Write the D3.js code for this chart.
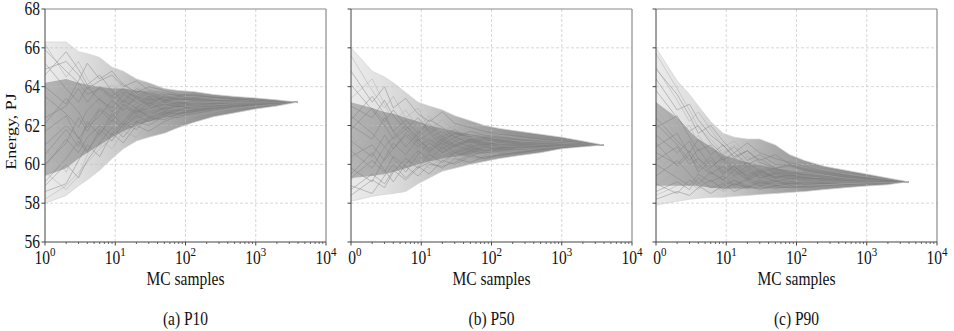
<!DOCTYPE html>
<html>
<head>
<meta charset="utf-8">
<script src="https://cdn.jsdelivr.net/npm/d3@7"></script>
<style>
  body { margin: 0; background: #fff; }
  svg { display: block; }
  text { font-family: "Liberation Serif", "Times New Roman", "DejaVu Serif", serif; fill: #111; }
</style>
</head>
<body>
<svg id="chart" width="954" height="331"></svg>
<script>
// Monte Carlo sample counts at which each running estimate is recorded
const samples = [1, 2, 3, 4, 6, 9, 13, 20, 30, 50, 80, 130, 250, 500, 1000, 2000, 3900];

const yTicks = [56, 58, 60, 62, 64, 66, 68];
const xTicks = [1, 10, 100, 1000, 10000];
const captions = ["(a) P10", "(b) P50", "(c) P90"];

// P10 estimate: full spread (min/max) and central spread of all runs
const p10OuterLo = [58.0, 58.4, 58.9, 59.2, 59.7, 60.3, 60.8, 61.2, 61.4, 61.6, 61.9, 62.15, 62.45, 62.65, 62.85, 63.0, 63.2];
const p10OuterHi = [66.3, 66.3, 65.8, 65.7, 65.5, 65.0, 64.8, 64.4, 64.2, 63.9, 63.8, 63.75, 63.6, 63.5, 63.42, 63.32, 63.2];
const p10InnerLo = [59.4, 59.8, 60.3, 60.6, 61.0, 61.4, 61.7, 62.0, 62.2, 62.4, 62.55, 62.7, 62.85, 62.95, 63.02, 63.1, 63.2];
const p10InnerHi = [64.2, 64.4, 64.2, 64.1, 64.0, 63.9, 63.9, 63.8, 63.75, 63.65, 63.6, 63.55, 63.48, 63.42, 63.36, 63.28, 63.2];
const p10Runs = [
  [58.2, 58.9, 59.6, 60.1, 60.8, 61.3, 61.9, 62.3, 62.5, 62.8, 62.9, 63.0, 63.1, 63.1, 63.15, 63.18, 63.2],
  [65.9, 64.8, 64.2, 63.6, 63.9, 63.4, 63.7, 63.5, 63.3, 63.4, 63.3, 63.35, 63.3, 63.25, 63.22, 63.21, 63.2],
  [60.5, 61.8, 60.9, 62.2, 61.5, 62.6, 62.0, 62.8, 62.5, 62.9, 63.0, 62.9, 63.1, 63.2, 63.18, 63.2, 63.2],
  [62.8, 61.4, 62.5, 63.6, 62.9, 63.8, 64.2, 63.6, 63.9, 63.5, 63.6, 63.4, 63.35, 63.3, 63.28, 63.22, 63.2],
  [59.1, 60.3, 61.2, 60.6, 61.8, 61.2, 62.1, 61.8, 62.4, 62.3, 62.6, 62.7, 62.9, 63.0, 63.1, 63.15, 63.2],
  [64.6, 65.8, 64.9, 64.1, 64.6, 63.8, 63.2, 63.9, 63.6, 63.3, 63.5, 63.4, 63.3, 63.28, 63.25, 63.22, 63.2],
  [61.2, 60.4, 61.8, 62.6, 62.1, 62.9, 62.4, 63.1, 62.8, 63.0, 62.9, 63.1, 63.05, 63.15, 63.2, 63.2, 63.2],
  [63.5, 62.6, 61.9, 62.8, 63.4, 62.7, 63.3, 62.9, 63.4, 63.2, 63.1, 63.3, 63.2, 63.25, 63.22, 63.2, 63.2],
  [58.6, 59.0, 60.2, 61.0, 60.4, 61.6, 61.1, 62.0, 61.7, 62.2, 62.5, 62.6, 62.8, 62.95, 63.05, 63.13, 63.2],
  [66.2, 64.5, 65.3, 64.4, 63.6, 64.1, 63.5, 64.0, 63.7, 63.6, 63.45, 63.5, 63.4, 63.32, 63.27, 63.23, 63.2],
  [60.0, 61.1, 62.4, 61.7, 62.8, 62.2, 63.0, 62.6, 63.2, 62.8, 63.0, 62.85, 63.0, 63.1, 63.15, 63.18, 63.2],
  [62.1, 63.4, 62.7, 61.9, 62.5, 63.3, 62.8, 63.5, 63.0, 63.3, 63.2, 63.0, 63.15, 63.2, 63.2, 63.2, 63.2],
  [59.6, 58.7, 59.4, 60.5, 61.3, 60.8, 61.7, 61.4, 62.1, 61.9, 62.3, 62.5, 62.7, 62.9, 63.0, 63.12, 63.2],
  [64.0, 63.1, 64.3, 65.2, 64.4, 64.8, 64.1, 63.7, 64.0, 63.8, 63.6, 63.55, 63.45, 63.35, 63.3, 63.24, 63.2],
  [61.7, 62.5, 61.3, 62.0, 62.9, 62.4, 63.1, 62.7, 62.9, 63.1, 62.95, 63.1, 63.1, 63.15, 63.18, 63.2, 63.2],
  [63.0, 64.2, 63.5, 62.8, 63.7, 63.1, 62.6, 63.3, 62.9, 63.4, 63.25, 63.3, 63.25, 63.2, 63.22, 63.21, 63.2],
  [58.9, 60.0, 59.3, 60.2, 61.1, 61.9, 61.4, 62.2, 62.0, 62.5, 62.4, 62.7, 62.85, 63.0, 63.08, 63.15, 63.2],
  [65.2, 63.9, 63.2, 64.0, 63.3, 62.9, 63.6, 63.2, 63.5, 63.3, 63.4, 63.3, 63.28, 63.25, 63.22, 63.2, 63.2],
  [60.8, 59.6, 60.9, 61.5, 60.9, 61.8, 62.4, 62.0, 62.6, 62.4, 62.7, 62.9, 62.95, 63.05, 63.12, 63.17, 63.2],
  [62.4, 63.0, 63.9, 63.2, 64.0, 63.5, 63.9, 63.4, 63.1, 63.5, 63.3, 63.4, 63.3, 63.25, 63.22, 63.2, 63.2],
  [59.9, 61.3, 60.6, 61.4, 62.0, 61.5, 62.2, 62.9, 62.4, 62.7, 62.6, 62.8, 63.0, 63.05, 63.1, 63.16, 63.2],
  [63.9, 62.2, 62.9, 63.5, 62.8, 63.4, 62.9, 63.2, 63.6, 63.1, 63.3, 63.2, 63.2, 63.22, 63.2, 63.2, 63.2],
  [61.0, 62.0, 61.4, 60.7, 61.6, 62.3, 61.9, 62.5, 62.2, 62.6, 62.8, 62.75, 62.95, 63.05, 63.12, 63.17, 63.2],
  [64.9, 65.3, 64.6, 63.9, 64.3, 64.6, 64.0, 64.3, 63.8, 63.7, 63.55, 63.6, 63.45, 63.35, 63.28, 63.23, 63.2]
];

// P50 estimate
const p50OuterLo = [58.1, 58.35, 58.45, 58.5, 58.6, 59.0, 59.3, 59.65, 59.8, 60.0, 60.15, 60.3, 60.45, 60.6, 60.8, 60.9, 61.0];
const p50OuterHi = [66.0, 64.8, 64.5, 64.2, 63.7, 63.2, 63.0, 62.8, 62.5, 62.25, 62.0, 61.85, 61.7, 61.55, 61.4, 61.2, 61.0];
const p50InnerLo = [59.3, 59.4, 59.5, 59.6, 59.8, 60.0, 60.15, 60.3, 60.4, 60.5, 60.58, 60.65, 60.74, 60.8, 60.87, 60.93, 61.0];
const p50InnerHi = [63.2, 62.9, 62.7, 62.6, 62.4, 62.2, 62.0, 61.85, 61.7, 61.55, 61.45, 61.38, 61.28, 61.2, 61.14, 61.07, 61.0];
const p50Runs = [
  [65.6, 63.8, 62.9, 63.5, 62.4, 62.9, 61.8, 62.3, 61.7, 61.9, 61.5, 61.6, 61.3, 61.2, 61.15, 61.08, 61.0],
  [58.4, 59.2, 58.8, 59.6, 60.3, 59.8, 60.5, 60.1, 60.6, 60.4, 60.7, 60.6, 60.8, 60.85, 60.92, 60.96, 61.0],
  [61.2, 60.4, 61.5, 60.8, 61.6, 61.1, 60.6, 61.2, 60.9, 61.3, 61.1, 61.0, 61.1, 61.05, 61.0, 61.0, 61.0],
  [63.4, 64.4, 63.1, 62.2, 62.8, 61.9, 62.5, 61.7, 62.0, 61.6, 61.8, 61.5, 61.35, 61.25, 61.15, 61.08, 61.0],
  [59.5, 60.6, 59.7, 59.1, 60.0, 60.7, 60.2, 60.9, 60.4, 60.7, 60.55, 60.8, 60.75, 60.9, 60.95, 60.98, 61.0],
  [62.0, 61.3, 62.4, 61.7, 60.9, 61.6, 62.1, 61.4, 61.8, 61.2, 61.4, 61.25, 61.2, 61.1, 61.05, 61.03, 61.0],
  [60.1, 61.4, 60.7, 61.9, 61.2, 60.4, 61.0, 60.5, 60.8, 61.1, 60.8, 60.95, 60.9, 61.0, 60.98, 61.0, 61.0],
  [64.8, 63.2, 64.0, 62.9, 63.4, 62.6, 62.2, 62.7, 62.1, 61.9, 61.7, 61.55, 61.45, 61.3, 61.2, 61.1, 61.0],
  [58.9, 58.5, 59.4, 60.0, 59.3, 59.9, 59.5, 60.2, 60.0, 60.4, 60.3, 60.5, 60.6, 60.75, 60.85, 60.93, 61.0],
  [62.7, 61.8, 61.1, 61.9, 61.4, 62.1, 61.5, 61.8, 61.3, 61.5, 61.25, 61.35, 61.2, 61.15, 61.08, 61.04, 61.0],
  [60.7, 59.8, 60.9, 60.3, 59.6, 60.5, 61.1, 60.6, 61.0, 60.7, 60.9, 60.8, 60.9, 60.92, 60.97, 60.99, 61.0],
  [61.8, 62.9, 62.2, 62.8, 62.0, 61.4, 61.9, 61.3, 61.6, 61.4, 61.2, 61.3, 61.15, 61.1, 61.06, 61.03, 61.0],
  [59.2, 60.0, 60.9, 60.2, 60.8, 60.3, 59.8, 60.4, 60.2, 60.5, 60.7, 60.6, 60.8, 60.85, 60.93, 60.97, 61.0],
  [63.0, 62.4, 63.3, 62.5, 61.8, 62.4, 61.7, 61.2, 61.6, 61.3, 61.45, 61.3, 61.25, 61.15, 61.1, 61.05, 61.0],
  [60.4, 61.0, 60.2, 60.8, 61.5, 60.9, 61.3, 60.8, 61.2, 60.9, 61.05, 60.9, 61.0, 60.98, 61.0, 61.0, 61.0],
  [61.5, 60.2, 59.4, 60.1, 60.6, 59.9, 60.4, 60.0, 60.5, 60.3, 60.55, 60.5, 60.7, 60.8, 60.9, 60.96, 61.0],
  [62.3, 63.5, 62.6, 61.7, 62.3, 61.6, 62.3, 61.9, 61.4, 61.7, 61.5, 61.4, 61.3, 61.2, 61.12, 61.06, 61.0],
  [59.8, 59.1, 60.3, 61.1, 60.5, 61.3, 60.7, 61.1, 60.6, 60.85, 60.7, 60.85, 60.9, 60.95, 60.98, 61.0, 61.0],
  [60.9, 61.9, 61.3, 60.6, 61.2, 61.9, 61.3, 61.6, 61.1, 61.4, 61.2, 61.1, 61.1, 61.05, 61.03, 61.01, 61.0],
  [58.7, 59.5, 59.0, 59.7, 59.2, 59.8, 60.1, 59.8, 60.3, 60.1, 60.4, 60.45, 60.6, 60.75, 60.86, 60.94, 61.0],
  [62.5, 61.6, 60.9, 61.4, 62.0, 61.3, 60.8, 61.3, 61.0, 61.2, 61.0, 61.15, 61.05, 61.05, 61.02, 61.01, 61.0],
  [60.3, 60.8, 61.6, 62.3, 61.5, 62.0, 61.4, 61.9, 61.5, 61.35, 61.45, 61.3, 61.2, 61.12, 61.07, 61.03, 61.0],
  [64.1, 62.8, 62.0, 61.3, 61.8, 61.2, 61.6, 61.0, 61.4, 61.1, 61.3, 61.2, 61.1, 61.08, 61.04, 61.02, 61.0],
  [59.3, 60.2, 59.6, 60.4, 59.9, 59.4, 60.0, 59.9, 60.1, 60.5, 60.3, 60.5, 60.65, 60.8, 60.9, 60.95, 61.0]
];

// P90 estimate
const p90OuterLo = [57.9, 58.1, 58.2, 58.25, 58.3, 58.3, 58.35, 58.4, 58.45, 58.5, 58.55, 58.6, 58.7, 58.8, 58.88, 58.95, 59.1];
const p90OuterHi = [66.0, 64.3, 63.6, 63.0, 62.2, 61.6, 61.4, 61.3, 61.3, 61.0, 60.5, 60.2, 59.9, 59.7, 59.5, 59.3, 59.1];
const p90InnerLo = [58.9, 58.9, 58.9, 58.9, 58.8, 58.75, 58.75, 58.75, 58.75, 58.78, 58.8, 58.83, 58.88, 58.93, 58.98, 59.03, 59.1];
const p90InnerHi = [63.2, 62.4, 61.7, 61.3, 60.9, 60.5, 60.3, 60.1, 59.95, 59.8, 59.7, 59.6, 59.45, 59.35, 59.25, 59.18, 59.1];
const p90Runs = [
  [65.7, 63.9, 62.8, 61.9, 61.3, 60.6, 61.0, 60.4, 60.1, 59.9, 59.7, 59.6, 59.45, 59.3, 59.22, 59.15, 59.1],
  [58.2, 58.6, 58.4, 58.8, 59.2, 58.7, 59.0, 58.8, 59.1, 58.9, 59.0, 58.95, 59.0, 59.05, 59.07, 59.09, 59.1],
  [61.5, 60.6, 61.2, 60.3, 59.8, 60.4, 59.7, 60.1, 59.6, 59.8, 59.5, 59.6, 59.4, 59.3, 59.2, 59.14, 59.1],
  [63.2, 62.1, 61.0, 61.5, 60.6, 59.9, 60.3, 59.6, 59.9, 59.4, 59.5, 59.35, 59.3, 59.2, 59.15, 59.12, 59.1],
  [59.4, 60.2, 59.5, 59.0, 59.6, 59.2, 58.9, 59.3, 59.0, 59.2, 58.9, 59.0, 59.05, 59.0, 59.05, 59.08, 59.1],
  [64.4, 62.8, 63.1, 62.3, 61.5, 61.0, 60.3, 60.7, 60.2, 60.5, 60.0, 59.8, 59.6, 59.45, 59.3, 59.18, 59.1],
  [60.4, 59.5, 60.1, 59.4, 60.0, 59.3, 59.6, 59.1, 59.4, 59.2, 59.3, 59.15, 59.2, 59.1, 59.12, 59.1, 59.1],
  [62.1, 61.0, 60.2, 60.8, 59.9, 60.3, 59.5, 59.9, 59.3, 59.6, 59.4, 59.5, 59.3, 59.25, 59.18, 59.13, 59.1],
  [58.6, 59.1, 58.7, 59.3, 58.8, 59.0, 58.6, 58.9, 58.7, 58.9, 58.8, 58.85, 58.95, 59.0, 59.03, 59.07, 59.1],
  [65.0, 63.3, 62.2, 62.7, 61.8, 60.9, 61.2, 60.5, 60.8, 60.2, 60.3, 59.9, 59.7, 59.5, 59.35, 59.2, 59.1],
  [60.9, 61.6, 60.5, 59.8, 60.4, 59.6, 59.9, 59.4, 59.7, 59.3, 59.5, 59.3, 59.25, 59.2, 59.15, 59.12, 59.1],
  [59.0, 58.5, 59.2, 58.9, 58.5, 58.9, 59.2, 58.8, 59.0, 58.75, 58.9, 58.8, 58.9, 58.95, 59.02, 59.06, 59.1],
  [62.8, 61.5, 62.0, 61.1, 60.3, 60.8, 60.1, 60.4, 59.8, 60.0, 59.7, 59.55, 59.45, 59.3, 59.2, 59.14, 59.1],
  [60.0, 59.3, 58.9, 59.5, 59.1, 59.4, 58.9, 59.2, 58.9, 59.1, 59.0, 59.05, 59.0, 59.05, 59.08, 59.09, 59.1],
  [61.9, 62.5, 61.4, 60.7, 61.0, 60.2, 60.6, 60.0, 60.3, 59.8, 59.9, 59.7, 59.5, 59.35, 59.25, 59.16, 59.1],
  [58.9, 59.7, 59.1, 58.7, 59.3, 58.9, 59.3, 59.0, 58.8, 59.0, 58.85, 59.0, 58.95, 59.02, 59.05, 59.08, 59.1],
  [63.8, 62.4, 61.7, 62.0, 61.1, 60.5, 60.9, 60.2, 60.5, 60.0, 59.95, 59.75, 59.55, 59.4, 59.28, 59.17, 59.1],
  [60.6, 60.0, 60.7, 60.0, 59.5, 59.9, 59.4, 59.7, 59.3, 59.5, 59.25, 59.35, 59.2, 59.15, 59.12, 59.1, 59.1],
  [59.7, 60.5, 59.9, 59.2, 59.7, 59.1, 59.5, 59.0, 59.3, 59.05, 59.2, 59.1, 59.1, 59.08, 59.1, 59.1, 59.1],
  [64.9, 63.6, 62.5, 61.6, 62.0, 61.2, 60.6, 61.1, 60.6, 60.3, 60.1, 59.9, 59.65, 59.45, 59.3, 59.18, 59.1],
  [61.1, 59.9, 60.5, 59.6, 60.2, 59.5, 59.9, 59.3, 59.6, 59.35, 59.45, 59.3, 59.25, 59.18, 59.14, 59.11, 59.1],
  [58.4, 58.9, 59.4, 58.8, 59.0, 58.6, 58.9, 58.7, 59.0, 58.8, 58.95, 58.9, 58.95, 59.0, 59.04, 59.07, 59.1],
  [62.4, 61.2, 60.6, 61.3, 60.5, 61.0, 60.4, 60.7, 60.1, 59.8, 60.0, 59.7, 59.5, 59.35, 59.22, 59.15, 59.1],
  [60.2, 60.9, 60.0, 60.3, 59.6, 59.2, 59.7, 59.2, 59.5, 59.1, 59.3, 59.15, 59.15, 59.1, 59.1, 59.1, 59.1]
];

const panels = [
  { caption: captions[0], outerLo: p10OuterLo, outerHi: p10OuterHi, innerLo: p10InnerLo, innerHi: p10InnerHi, runs: p10Runs, left: 45, labels: true },
  { caption: captions[1], outerLo: p50OuterLo, outerHi: p50OuterHi, innerLo: p50InnerLo, innerHi: p50InnerHi, runs: p50Runs, left: 351, labels: false },
  { caption: captions[2], outerLo: p90OuterLo, outerHi: p90OuterHi, innerLo: p90InnerLo, innerHi: p90InnerHi, runs: p90Runs, left: 656, labels: false }
];

const plotTop = 9, plotW = 281, plotH = 233;
const fontSize = 15.5, stretch = 1.16; // the figure's lettering is set tall and narrow
const svg = d3.select("#chart");
const defs = svg.append("defs");

const x = d3.scaleLog().domain([1, 10000]).range([0, plotW]);
const y = d3.scaleLinear().domain([56, 68]).range([plotH, 0]);

// shading gets denser as the runs converge
function addGradient(id, stops) {
  const g = defs.append("linearGradient").attr("id", id)
    .attr("gradientUnits", "userSpaceOnUse")
    .attr("x1", 0).attr("x2", plotW).attr("y1", 0).attr("y2", 0);
  stops.forEach(([o, c]) => g.append("stop").attr("offset", o).attr("stop-color", c));
}
addGradient("outerFill", [[0, "#ebebeb"], [0.12, "#e0e0e0"], [0.25, "#cdcdcd"], [0.4, "#adadad"], [0.55, "#969696"], [0.75, "#8a8a8a"], [1, "#888"]]);
addGradient("innerFill", [[0, "#b4b4b4"], [0.12, "#a8a8a8"], [0.25, "#9a9a9a"], [0.45, "#8c8c8c"], [1, "#868686"]]);

defs.append("clipPath").attr("id", "plotClip")
  .append("rect").attr("x", 0).attr("y", 0).attr("width", plotW).attr("height", plotH);

const area = (lo, hi) => d3.area()
  .x((d, i) => x(samples[i]))
  .y0((d, i) => y(lo[i]))
  .y1((d, i) => y(hi[i]))(samples);

const line = d3.line().x((d, i) => x(samples[i])).y(d => y(d));

// text placed at (tx, ty) with the tall letterform
const place = (tx, ty) => `translate(${tx},${ty}) scale(1,${stretch})`;

const minorTicks = [];
for (let dec = 1; dec < 10000; dec *= 10) for (let k = 2; k <= 9; k++) minorTicks.push(dec * k);

panels.forEach((p, pi) => {
  const g = svg.append("g").attr("transform", `translate(${p.left},${plotTop})`);

  const plot = g.append("g").attr("clip-path", "url(#plotClip)");
  plot.append("path").attr("d", area(p.outerLo, p.outerHi)).attr("fill", "url(#outerFill)");
  plot.append("path").attr("d", area(p.innerLo, p.innerHi)).attr("fill", "url(#innerFill)");

  // grid
  const grid = g.append("g").attr("stroke", "#bdbdbd").attr("stroke-opacity", 0.75)
    .attr("stroke-width", 0.8).attr("stroke-dasharray", "3,2");
  grid.selectAll(".gx").data(xTicks.slice(1, -1)).join("line")
    .attr("x1", d => x(d)).attr("x2", d => x(d)).attr("y1", 0).attr("y2", plotH);
  grid.selectAll(".gy").data(yTicks.slice(1, -1)).join("line")
    .attr("y1", d => y(d)).attr("y2", d => y(d)).attr("x1", 0).attr("x2", plotW);

  const runs = g.append("g").attr("clip-path", "url(#plotClip)");
  runs.selectAll("path").data(p.runs).join("path")
    .attr("d", d => line(d))
    .attr("fill", "none")
    .attr("stroke", (d, i) => i % 3 === 0 ? "#a8a8a8" : "#7c7c7c")
    .attr("stroke-opacity", 0.55)
    .attr("stroke-width", 0.8)
    .attr("stroke-linejoin", "round");
  // the outer limits of the runs show as faint traces
  runs.append("path").attr("d", line(p.outerHi)).attr("fill", "none").attr("stroke", "#d2d2d2").attr("stroke-width", 0.7);
  runs.append("path").attr("d", line(p.outerLo)).attr("fill", "none").attr("stroke", "#d2d2d2").attr("stroke-width", 0.7);

  // frame
  g.append("line").attr("x1", 0).attr("x2", plotW).attr("y1", 0).attr("y2", 0).attr("stroke", "#8a8a8a").attr("stroke-width", 1.2);
  g.append("line").attr("x1", plotW).attr("x2", plotW).attr("y1", 0).attr("y2", plotH).attr("stroke", "#8a8a8a").attr("stroke-width", 1.2);
  g.append("line").attr("x1", 0).attr("x2", 0).attr("y1", 0).attr("y2", plotH).attr("stroke", "#444").attr("stroke-width", 1);
  g.append("line").attr("x1", 0).attr("x2", plotW).attr("y1", plotH).attr("y2", plotH).attr("stroke", "#444").attr("stroke-width", 1);

  // y ticks
  g.append("g").selectAll("line").data(yTicks).join("line")
    .attr("x1", -3.5).attr("x2", 0).attr("y1", d => y(d)).attr("y2", d => y(d))
    .attr("stroke", "#444").attr("stroke-width", 1);
  if (p.labels) {
    g.append("g").selectAll("text").data(yTicks).join("text")
      .attr("transform", d => place(-5, y(d)))
      .attr("dy", "0.34em")
      .attr("text-anchor", "end").attr("font-size", fontSize)
      .text(d => d);
  }

  // x ticks
  g.append("g").selectAll("line").data(xTicks).join("line")
    .attr("x1", d => x(d)).attr("x2", d => x(d)).attr("y1", plotH).attr("y2", plotH + 3.5)
    .attr("stroke", "#444").attr("stroke-width", 1);
  g.append("g").selectAll("line").data(minorTicks).join("line")
    .attr("x1", d => x(d)).attr("x2", d => x(d)).attr("y1", plotH).attr("y2", plotH + 2)
    .attr("stroke", "#444").attr("stroke-width", 0.8);

  // each subfigure is cut just left of its axis
  const labelClip = "labelClip" + pi;
  defs.append("clipPath").attr("id", labelClip)
    .append("rect").attr("x", pi === 0 ? -45 : -3.5).attr("y", plotH).attr("width", plotW + 60).attr("height", 40);
  const xl = g.append("g").attr("clip-path", `url(#${labelClip})`).selectAll("text").data(xTicks).join("text")
    .attr("transform", d => place(x(d), plotH + 22))
    .attr("text-anchor", "middle").attr("font-size", fontSize);
  xl.append("tspan").text("10");
  xl.append("tspan").attr("dy", -7).attr("font-size", 11).text(d => Math.round(Math.log10(d)));

  g.append("text").attr("transform", place(plotW / 2, plotH + 43))
    .attr("text-anchor", "middle").attr("font-size", fontSize).text("MC samples");

  g.append("text").attr("transform", place(plotW / 2, plotH + 83))
    .attr("text-anchor", "middle").attr("font-size", fontSize).text(p.caption);
});

svg.append("text")
  .attr("transform", `${place(16, plotTop + plotH / 2 + 6)} rotate(-90)`)
  .attr("text-anchor", "middle").attr("font-size", fontSize)
  .text("Energy, PJ");
</script>
</body>
</html>
